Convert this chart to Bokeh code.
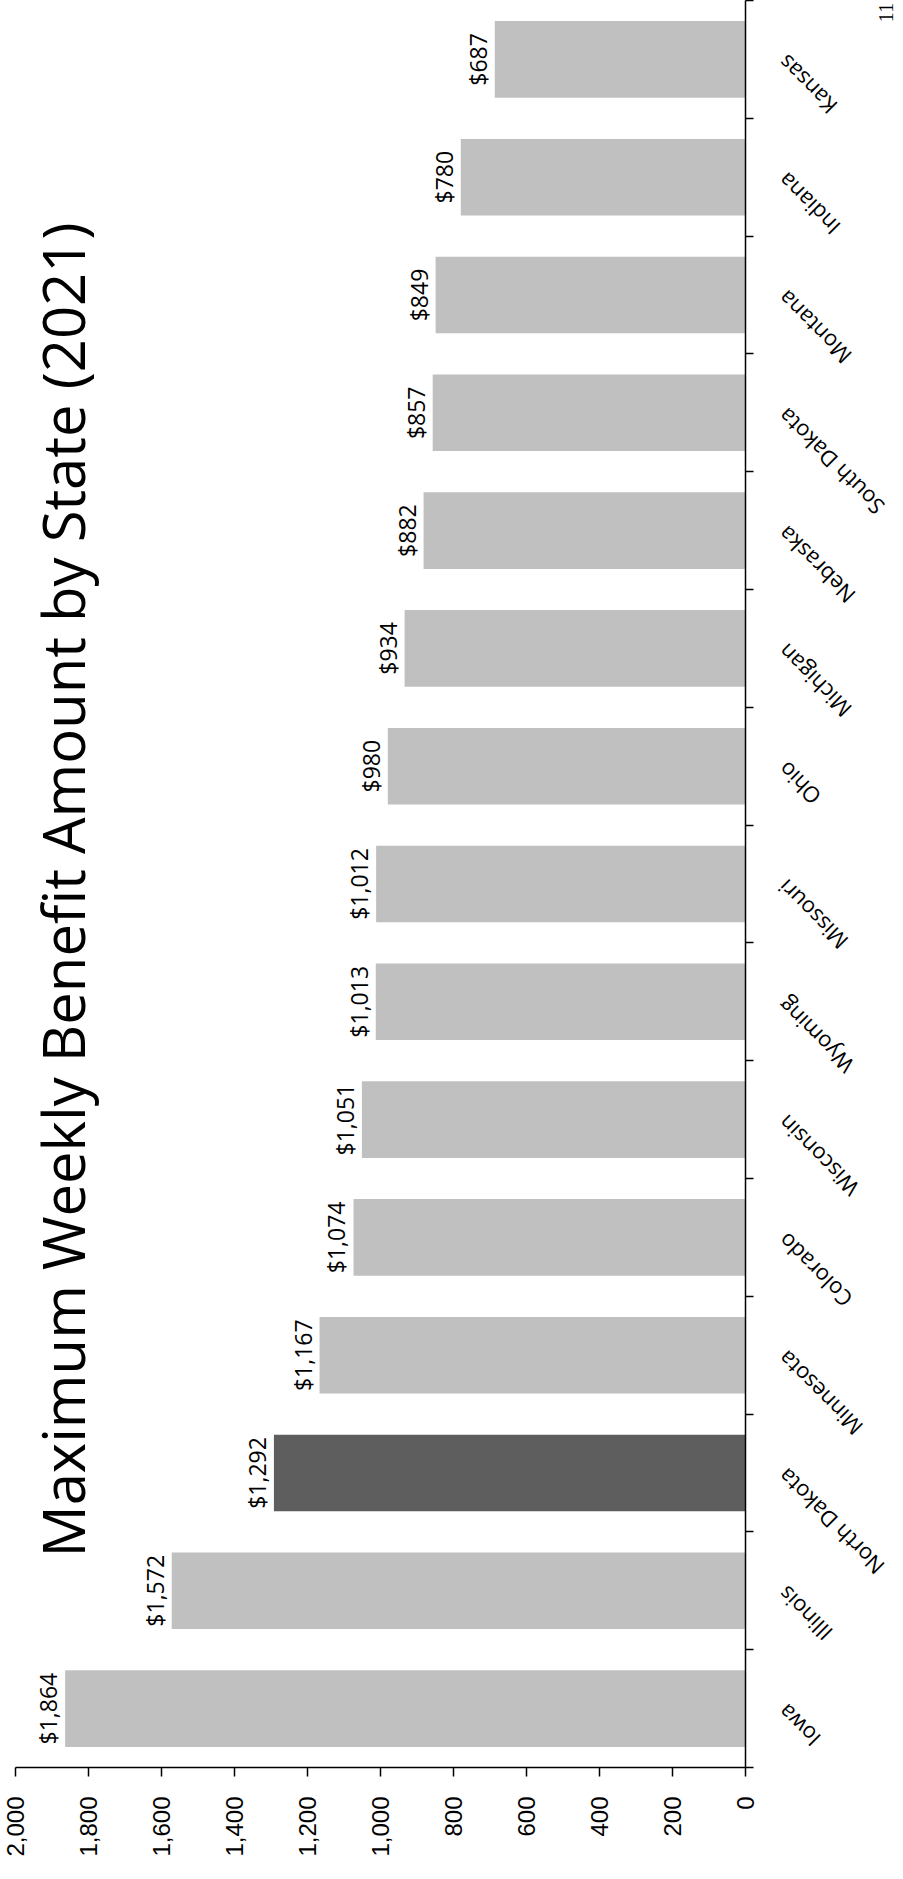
from math import pi
from bokeh.plotting import figure
from bokeh.models import Range1d, FixedTicker, Label, ColumnDataSource, NumeralTickFormatter
from bokeh.core.properties import value
from bokeh.embed import file_html
from bokeh.resources import INLINE

# ---- data ----
states = ["Iowa", "Illinois", "North Dakota", "Minnesota", "Colorado", "Wisconsin",
          "Wyoming", "Missouri", "Ohio", "Michigan", "Nebraska", "South Dakota",
          "Montana", "Indiana", "Kansas"]
benefits = [1864, 1572, 1292, 1167, 1074, 1051, 1013, 1012, 980, 934, 882, 857, 849, 780, 687]
highlight_state = "North Dakota"
value_ticks = [0, 200, 400, 600, 800, 1000, 1200, 1400, 1600, 1800, 2000]
title_text = "Maximum Weekly Benefit Amount by State (2021)"
page_number = ["11"]

n = len(states)
positions = [i + 0.5 for i in range(n)]
colors = ["#5e5e5e" if s == highlight_state else "#c0c0c0" for s in states]
labels = [f"${v:,}" for v in benefits]

src = ColumnDataSource(dict(state=states, benefit=benefits, pos=positions,
                            color=colors, label=labels, zero=[0] * n))

p = figure(width=895, height=1871, output_backend="svg", toolbar_location=None,
           x_range=Range1d(max(value_ticks), 0), y_range=Range1d(0, n),
           x_axis_location="below", y_axis_location="right",
           min_border_left=15, min_border_right=150, min_border_top=0, min_border_bottom=104)

p.hbar(y="pos", left=0, right="benefit", height=0.65, fill_color="color",
       line_color=None, source=src)

# value axis (bottom)
xa = p.xaxis[0]
xa.ticker = FixedTicker(ticks=value_ticks)
xa.formatter = NumeralTickFormatter(format="0,0")
xa.major_label_orientation = pi / 2
xa.major_label_text_font = "Liberation Sans"
xa.major_label_text_font_size = "24px"
xa.major_label_text_color = "black"
xa.major_label_standoff = 20
xa.major_tick_out = 9
xa.major_tick_in = 0
xa.minor_tick_line_color = None
xa.axis_line_width = 1.5
xa.axis_line_color = "black"
xa.major_tick_line_width = 1.5
xa.major_tick_line_color = "black"

# category axis (right), ticks at category boundaries, no tick labels
ya = p.yaxis[0]
ya.ticker = FixedTicker(ticks=list(range(n + 1)))
ya.major_label_text_color = None
ya.major_tick_out = 8
ya.major_tick_in = 0
ya.minor_tick_line_color = None
ya.axis_line_width = 1.5
ya.axis_line_color = "black"
ya.major_tick_line_width = 1.5
ya.major_tick_line_color = "black"

p.xgrid.visible = False
p.ygrid.visible = False
p.outline_line_color = None

# category names
p.text(x="zero", y="pos", text="state", angle=3 * pi / 4, text_align="right",
       text_baseline="middle", x_offset=36, text_font=value("Open Sans"),
       text_font_size="22px", text_color="black", level="overlay", source=src)

# value labels
p.text(x="benefit", y="pos", text="label", angle=pi / 2, text_align="center",
       text_baseline="alphabetic", x_offset=-17, text_font=value("Open Sans"),
       text_font_size="23px", text_color="black", level="overlay", source=src)

# title
p.add_layout(Label(x=max(value_ticks), y=n / 2, x_offset=47, y_offset=-6, text=title_text,
                   angle=pi / 2, text_align="center", text_baseline="alphabetic",
                   text_font="Open Sans", text_font_size="58px", text_color="black"))

# page number (top right corner)
p.text(x=[0], y=[n], text=page_number, angle=pi / 2, text_align="center",
       text_baseline="alphabetic", x_offset=140, y_offset=12,
       text_font=value("Liberation Serif"), text_font_size="20px",
       text_color="black", level="overlay")

open("out.html", "w").write(file_html(p, INLINE))
